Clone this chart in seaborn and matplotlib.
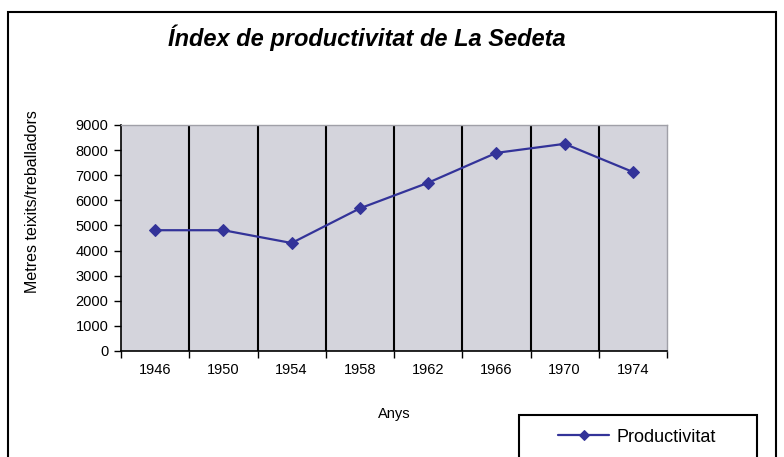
import matplotlib
matplotlib.use("Agg")
import matplotlib.pyplot as plt
import matplotlib.patches as mpatches
import numpy as np
import seaborn as sns

# Data
years = ["1946", "1950", "1954", "1958", "1962", "1966", "1970", "1974"]
productivity = [4810, 4810, 4300, 5680, 6700, 7890, 8250, 7130]
y_ticks = [0, 1000, 2000, 3000, 4000, 5000, 6000, 7000, 8000, 9000]

sns.set_style("white")
plt.rcParams['font.family'] = ['Liberation Sans', 'DejaVu Sans']
plt.rcParams['text.color'] = 'black'
plt.rcParams['axes.labelcolor'] = 'black'
plt.rcParams['xtick.color'] = 'black'
plt.rcParams['ytick.color'] = 'black'

fig = plt.figure(figsize=(7.84, 4.57), dpi=100)
ax = fig.add_axes([121 / 784, 1 - 351 / 457, 546 / 784, 226 / 457])
ax.set_facecolor("#d4d4dc")

pos = np.arange(len(years))
sns.lineplot(x=pos, y=productivity, ax=ax, color="#333399", marker="D",
             markersize=6, markeredgecolor="#333399", linewidth=1.6,
             label="Productivitat", legend=False)

ax.set_xlim(-0.5, len(years) - 0.5)
ax.set_ylim(0, 9000)
ax.set_yticks(y_ticks)
ax.set_yticklabels([str(v) for v in y_ticks], fontsize=10.5)
ax.set_xticks(pos)
ax.set_xticklabels(years, fontsize=10.5)
ax.set_xticks(np.arange(-0.5, len(years)), minor=True)
ax.tick_params(axis="x", which="major", length=0, pad=9)
ax.tick_params(axis="x", which="minor", length=5, width=1, direction="out",
               color="black", bottom=True)
ax.tick_params(axis="y", length=5, width=1, direction="out", color="black",
               left=True, pad=4)

# vertical grid at category boundaries
for b in np.arange(0.5, len(years) - 1):
    ax.axvline(b, color="black", linewidth=1.5, zorder=1)

for s in ["left", "bottom"]:
    ax.spines[s].set_color("black")
    ax.spines[s].set_linewidth(1.2)
for s in ["top", "right"]:
    ax.spines[s].set_color("#a0a0a8")
    ax.spines[s].set_linewidth(1)

ax.set_xlabel("Anys", fontsize=10.5, labelpad=21)
ax.set_ylabel("")
fig.text(33 / 784, 1 - 202 / 457, "Metres teixits/treballadors", rotation=90,
         ha="center", va="center", fontsize=11.5)

fig.text(367 / 784, 1 - 38 / 457, "Índex de productivitat de La Sedeta",
         ha="center", va="center", fontsize=17, fontweight="bold",
         style="italic")

# outer chart frame
frame = mpatches.Rectangle((8 / 784, -0.05), 768 / 784, 1.05 - 12 / 457,
                           transform=fig.transFigure, fill=False,
                           edgecolor="black", linewidth=1.5, clip_on=False)
fig.patches.append(frame)

# legend box, cut at the bottom like the reference
leg_box = mpatches.Rectangle((519 / 784, -0.05), 238 / 784, 0.05 + 42 / 457,
                             transform=fig.transFigure, fill=True,
                             facecolor="white", edgecolor="black",
                             linewidth=1.5, clip_on=False)
fig.patches.append(leg_box)
handles, labels = ax.get_legend_handles_labels()
fig.legend(handles, labels, loc="center", bbox_to_anchor=(637 / 784, 1 - 437 / 457),
           frameon=False, fontsize=13, handlelength=2.8, handletextpad=0.4,
           markerscale=0.8)

fig.savefig("out.png", dpi=100)
